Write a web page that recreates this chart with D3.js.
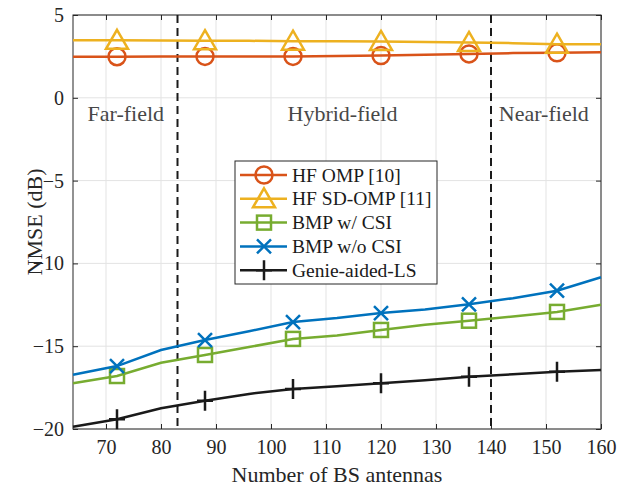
<!DOCTYPE html>
<html>
<head>
<meta charset="utf-8">
<script src="https://cdn.jsdelivr.net/npm/d3@7"></script>
<style>
body { margin: 0; background: #fff; }
svg text { font-family: "Liberation Serif", "Times New Roman", serif; }
</style>
</head>
<body>
<script>
'use strict';

// data
let antennas = [64, 72, 80, 88, 96, 104, 112, 120, 128, 136, 144, 152, 160];
let hfOmp = [2.48, 2.48, 2.5, 2.5, 2.5, 2.5, 2.52, 2.55, 2.6, 2.65, 2.7, 2.72, 2.75];
let hfSdOmp = [3.47, 3.47, 3.46, 3.45, 3.44, 3.42, 3.41, 3.4, 3.37, 3.34, 3.3, 3.24, 3.24];
let bmpCsi = [-17.24, -16.8, -16.0, -15.53, -15.05, -14.56, -14.35, -14.02, -13.7, -13.46, -13.2, -12.93, -12.5];
let bmpNoCsi = [-16.72, -16.2, -15.23, -14.63, -14.1, -13.54, -13.3, -13.0, -12.78, -12.47, -12.1, -11.65, -10.84];
let genie = [-19.86, -19.41, -18.75, -18.29, -17.88, -17.58, -17.42, -17.24, -17.05, -16.84, -16.7, -16.54, -16.44];
let markerAt = [72, 88, 104, 120, 136, 152];
let xTicks = [70, 80, 90, 100, 110, 120, 130, 140, 150, 160];
let yTicks = [-20, -15, -10, -5, 0, 5];
let boundaries = [83, 140];
let regions = [{name: 'Far-field', x: 73.6}, {name: 'Hybrid-field', x: 113}, {name: 'Near-field', x: 149.6}];

let series = [
	{name: 'HF OMP [10]', values: hfOmp, color: '#D95319', marker: 'circle'},
	{name: 'HF SD-OMP [11]', values: hfSdOmp, color: '#EDB120', marker: 'triangle'},
	{name: 'BMP w/ CSI', values: bmpCsi, color: '#77AC30', marker: 'square'},
	{name: 'BMP w/o CSI', values: bmpNoCsi, color: '#0072BD', marker: 'x'},
	{name: 'Genie-aided-LS', values: genie, color: '#1a1a1a', marker: 'plus'}
];

let width = 623, height = 487;
let mLeft = 73, mRight = 601, mTop = 15, mBottom = 429;

let svg = d3.select('body').append('svg')
	.attr('width', width)
	.attr('height', height);

let x = d3.scaleLinear().domain([64, 160]).range([mLeft, mRight]);
let y = d3.scaleLinear().domain([-20, 5]).range([mBottom, mTop]);

// grid
let grid = svg.append('g').attr('stroke', '#e3e3e3').attr('stroke-width', 1);
xTicks.forEach(t => grid.append('line')
	.attr('x1', x(t)).attr('x2', x(t)).attr('y1', mTop).attr('y2', mBottom));
yTicks.forEach(t => grid.append('line')
	.attr('x1', mLeft).attr('x2', mRight).attr('y1', y(t)).attr('y2', y(t)));

// axes
let axisColor = '#262626';
svg.append('g').attr('transform', `translate(0,${mBottom})`)
	.call(d3.axisBottom(x).tickValues(xTicks).tickSize(-5).tickPadding(11));
svg.append('g').attr('transform', `translate(${mLeft},0)`)
	.call(d3.axisLeft(y).tickValues(yTicks).tickSize(-5).tickPadding(9).tickFormat(d3.format('d')));
svg.append('g').attr('transform', `translate(0,${mTop})`)
	.call(d3.axisTop(x).tickValues(xTicks).tickSize(-5).tickFormat(''));
svg.append('g').attr('transform', `translate(${mRight},0)`)
	.call(d3.axisRight(y).tickValues(yTicks).tickSize(-5).tickFormat(''));
svg.selectAll('.domain').remove();
svg.selectAll('.tick line').attr('stroke', axisColor);
svg.selectAll('.tick text')
	.attr('fill', axisColor)
	.style('font-size', '20px')
	.style('font-family', '"Liberation Serif", serif');
svg.append('rect')
	.attr('x', mLeft).attr('y', mTop)
	.attr('width', mRight - mLeft).attr('height', mBottom - mTop)
	.attr('fill', 'none').attr('stroke', axisColor).attr('stroke-width', 1);

// labels
svg.append('text')
	.attr('x', (mLeft + mRight) / 2).attr('y', 482)
	.attr('text-anchor', 'middle')
	.attr('fill', axisColor)
	.style('font-size', '22px')
	.text('Number of BS antennas');
svg.append('text')
	.attr('transform', `translate(42,${(mTop + mBottom) / 2}) rotate(-90)`)
	.attr('text-anchor', 'middle')
	.attr('fill', axisColor)
	.style('font-size', '22px')
	.text('NMSE (dB)');

// region boundaries
boundaries.forEach(b => svg.append('line')
	.attr('x1', x(b)).attr('x2', x(b)).attr('y1', mTop).attr('y2', mBottom)
	.attr('stroke', '#1a1a1a').attr('stroke-width', 2)
	.attr('stroke-dasharray', '8,5'));

svg.selectAll('.region').data(regions).join('text')
	.attr('class', 'region')
	.attr('x', d => x(d.x)).attr('y', y(-1.43))
	.attr('text-anchor', 'middle')
	.attr('fill', '#474747')
	.style('font-size', '22px')
	.text(d => d.name);

// markers
function drawMarker(g, type, color) {
	if (type === 'circle') {
		g.append('circle').attr('r', 8.5).attr('fill', 'none').attr('stroke', color).attr('stroke-width', 2.5);
	} else if (type === 'triangle') {
		g.append('path').attr('d', 'M0,-10.5L11,8.5L-11,8.5Z').attr('fill', 'none').attr('stroke', color).attr('stroke-width', 2.5);
	} else if (type === 'square') {
		g.append('rect').attr('x', -7).attr('y', -7).attr('width', 14).attr('height', 14)
			.attr('fill', 'none').attr('stroke', color).attr('stroke-width', 2.5);
	} else if (type === 'x') {
		g.append('path').attr('d', 'M-7,-7L7,7M-7,7L7,-7').attr('stroke', color).attr('stroke-width', 2.5);
	} else if (type === 'plus') {
		g.append('path').attr('d', 'M0,-10L0,10M-8,0L8,0').attr('stroke', color).attr('stroke-width', 2.5);
	}
}

let line = d3.line().x((d, i) => x(antennas[i])).y(d => y(d));

let plot = svg.append('g');
series.forEach(s => {
	plot.append('path')
		.attr('d', line(s.values))
		.attr('fill', 'none')
		.attr('stroke', s.color)
		.attr('stroke-width', 2.5);
	antennas.forEach((a, i) => {
		if (markerAt.indexOf(a) < 0) return;
		let g = plot.append('g').attr('transform', `translate(${x(a)},${y(s.values[i])})`);
		drawMarker(g, s.marker, s.color);
	});
});

// legend
let lx = 235, ly = 161, lw = 202, lh = 123;
let legend = svg.append('g');
legend.append('rect')
	.attr('x', lx).attr('y', ly).attr('width', lw).attr('height', lh)
	.attr('fill', '#fff').attr('stroke', '#262626').attr('stroke-width', 1);
series.forEach((s, i) => {
	let cy = ly + 14 + i * 23.8;
	legend.append('line')
		.attr('x1', lx + 5).attr('x2', lx + 52).attr('y1', cy).attr('y2', cy)
		.attr('stroke', s.color).attr('stroke-width', 2.5);
	let g = legend.append('g').attr('transform', `translate(${lx + 29},${cy})`);
	drawMarker(g, s.marker, s.color);
	legend.append('text')
		.attr('x', lx + 57).attr('y', cy + 6.5)
		.attr('fill', '#1a1a1a')
		.style('font-size', '19.5px')
		.text(s.name);
});
</script>
</body>
</html>
